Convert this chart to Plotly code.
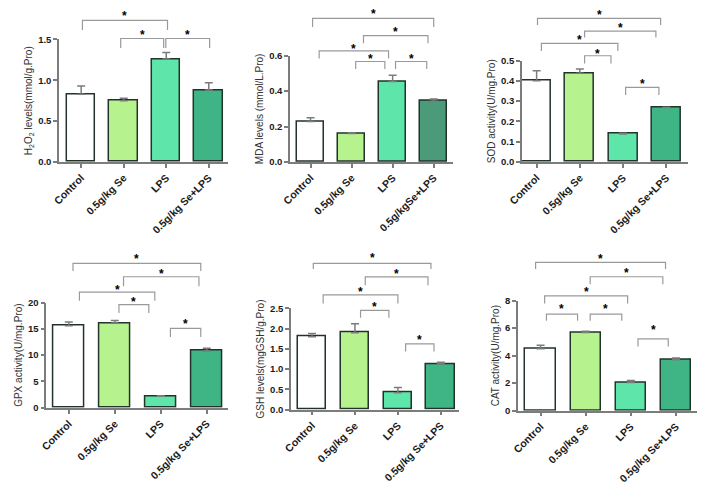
import plotly.graph_objects as go

W, H = 702, 484

# ---------------- data ----------------
categories = ["Control", "0.5g/kg Se", "LPS", "0.5g/kg Se+LPS"]
categories_mda = ["Control", "0.5g/kg Se", "LPS", "0.5g/kgSe+LPS"]

h2o2_mean = [0.83, 0.75, 1.26, 0.88]
h2o2_err = [0.10, 0.03, 0.08, 0.09]
mda_mean = [0.228, 0.160, 0.455, 0.343]
mda_err = [0.022, 0.003, 0.035, 0.012]
sod_mean = [0.400, 0.437, 0.138, 0.268]
sod_err = [0.050, 0.021, 0.004, 0.002]
gpx_mean = [15.6, 16.1, 2.2, 10.8]
gpx_err = [0.7, 0.5, 0.1, 0.5]
gsh_mean = [1.80, 1.90, 0.42, 1.13]
gsh_err = [0.08, 0.22, 0.13, 0.04]
cat_mean = [4.50, 5.68, 2.05, 3.70]
cat_err = [0.25, 0.10, 0.15, 0.13]

h2o2_ticks = [0.0, 0.5, 1.0, 1.5]
mda_ticks = [0.0, 0.2, 0.4, 0.6]
sod_ticks = [0.0, 0.1, 0.2, 0.3, 0.4, 0.5]
gpx_ticks = [0, 5, 10, 15, 20]
gsh_ticks = [0.0, 0.5, 1.0, 1.5, 2.0, 2.5]
cat_ticks = [0, 2, 4, 6, 8]

h2o2_sig = [(0, 2), (1, 2), (2, 3)]
mda_sig = [(0, 3), (1, 3), (0, 2), (1, 2), (2, 3)]
sod_sig = [(0, 3), (1, 3), (0, 2), (1, 2), (2, 3)]
gpx_sig = [(0, 3), (1, 3), (0, 2), (1, 2), (2, 3)]
gsh_sig = [(0, 3), (1, 3), (0, 2), (1, 2), (2, 3)]
cat_sig = [(0, 3), (1, 3), (0, 2), (0, 1), (1, 2), (2, 3)]

# ---------------- style ----------------
FONT = "Liberation Sans, Arial, sans-serif"
C_CTRL = "#ffffff"
C_SE = "#b6f28e"
C_LPS = "#5ee5a9"
C_SELPS = "#3fb585"
C_SELPS_MDA = "#4b9a79"
OUTLINE = "#22332a"
AXIS = "#7c7c7c"
BRACKET = "#9a9a9a"

# bracket style: (dx0, dx1, top, leg, star) in x data offset / y domain fraction
h2o2_br = [(0.03, 0.03, 1.156, 1.078, 1.22), (-0.07, -0.06, 1.008, 0.93, 1.06),
           (-0.01, 0.02, 1.008, 0.93, 1.06)]
mda_br = [(0.05, 0.0, 1.351, 1.27, 1.42), (0.29, -0.14, 1.19, 1.117, 1.25),
          (0.21, -0.10, 1.045, 0.973, 1.09), (0.10, -0.19, 0.946, 0.874, 1.0),
          (0.07, -0.17, 0.946, 0.874, 1.0)]
sod_br = [(0.02, -0.13, 1.415, 1.35, 1.48), (0.11, -0.24, 1.29, 1.226, 1.35),
          (0.11, -0.12, 1.17, 1.094, 1.23), (0.11, -0.28, 1.047, 0.97, 1.09),
          (0.06, -0.17, 0.736, 0.66, 0.80)]
gpx_br = [(0.09, -0.13, 1.373, 1.30, 1.445), (0.19, -0.17, 1.245, 1.155, 1.30),
          (0.23, -0.13, 1.10, 1.018, 1.15), (0.09, -0.26, 0.98, 0.90, 1.03),
          (0.21, -0.13, 0.755, 0.673, 0.82)]
gsh_br = [(0.03, -0.23, 1.443, 1.387, 1.53), (0.24, -0.30, 1.31, 1.226, 1.37),
          (0.26, 0.0, 1.132, 1.047, 1.19), (0.13, -0.21, 0.98, 0.906, 1.04),
          (0.18, -0.16, 0.65, 0.575, 0.72)]
cat_br = [(-0.11, -0.23, 1.348, 1.287, 1.41), (0.10, -0.29, 1.217, 1.148, 1.28),
          (0.09, -0.07, 1.043, 0.974, 1.11), (0.13, -0.18, 0.878, 0.817, 0.95),
          (0.10, -0.20, 0.878, 0.817, 0.95), (0.16, -0.17, 0.652, 0.583, 0.76)]

panels = [
    dict(mean=h2o2_mean, err=h2o2_err, ticks=h2o2_ticks, cats=categories, sig=h2o2_sig, br=h2o2_br,
         title="H<sub>2</sub>O<sub>2</sub> levels(mmol/g.Pro)", fmt="%.1f", selps=C_SELPS,
         px=(45, 218), py=(35, 163), xr=(-0.52, 3.46)),
    dict(mean=mda_mean, err=mda_err, ticks=mda_ticks, cats=categories_mda, sig=mda_sig, br=mda_br,
         title="MDA levels (mmol/L.Pro)", fmt="%.1f", selps=C_SELPS_MDA,
         px=(281, 448), py=(52, 163), xr=(-0.50, 3.48)),
    dict(mean=sod_mean, err=sod_err, ticks=sod_ticks, cats=categories, sig=sod_sig, br=sod_br,
         title="SOD activity(U/mg.Pro)", fmt="%.1f", selps=C_SELPS,
         px=(518, 688), py=(57, 163), xr=(-0.34, 3.51)),
    dict(mean=gpx_mean, err=gpx_err, ticks=gpx_ticks, cats=categories, sig=gpx_sig, br=gpx_br,
         title="GPX activity(U/mg.Pro)", fmt="%d", selps=C_SELPS,
         px=(32, 218), py=(310, 420), xr=(-0.49, 3.47)),
    dict(mean=gsh_mean, err=gsh_err, ticks=gsh_ticks, cats=categories, sig=gsh_sig, br=gsh_br,
         title="GSH levels(mgGSH/g.Pro)", fmt="%.1f", selps=C_SELPS,
         px=(282, 454), py=(316, 422), xr=(-0.49, 3.43)),
    dict(mean=cat_mean, err=cat_err, ticks=cat_ticks, cats=categories, sig=cat_sig, br=cat_br,
         title="CAT activity(U/mg.Pro)", fmt="%d", selps=C_SELPS,
         px=(514, 697), py=(308, 423), xr=(-0.50, 3.47)),
]

fig = go.Figure()
shapes = []
annotations = []

for k, p in enumerate(panels):
    n = "" if k == 0 else str(k + 1)
    xa, ya = "x" + n, "y" + n
    xs = list(range(len(p["cats"])))
    fig.add_trace(go.Bar(
        x=xs, y=p["mean"], xaxis=xa, yaxis=ya, width=0.67,
        marker=dict(color=[C_CTRL, C_SE, C_LPS, p["selps"]],
                    line=dict(color=OUTLINE, width=1.5)),
        error_y=dict(type="data", array=p["err"], arrayminus=[0] * 4, symmetric=False,
                     color=AXIS, thickness=1.5, width=4),
        showlegend=False, hoverinfo="skip",
    ))
    x0p, x1p = p["px"]
    y0p, y1p = p["py"]
    fig.layout["xaxis" + n] = dict(
        domain=[x0p / W, x1p / W], range=list(p["xr"]), anchor=ya,
        tickmode="array", tickvals=xs, ticktext=p["cats"], tickangle=-45,
        ticks="outside", ticklen=4, tickwidth=1.5, tickcolor=AXIS,
        showline=True, linecolor=AXIS, linewidth=1.5, showgrid=False, zeroline=False,
        tickfont=dict(family=FONT, size=10.5, color="#1a1a1a", weight="bold"),
        fixedrange=True,
    )
    fig.layout["yaxis" + n] = dict(
        domain=[1 - y1p / H, 1 - y0p / H], range=[p["ticks"][0], p["ticks"][-1]], anchor=xa,
        tickmode="array", tickvals=p["ticks"], ticktext=[p["fmt"] % t for t in p["ticks"]],
        ticks="outside", ticklen=4, tickwidth=1.5, tickcolor=AXIS,
        showline=True, linecolor=AXIS, linewidth=1.5, showgrid=False, zeroline=False,
        tickfont=dict(family=FONT, size=9.5, color="#1a1a1a", weight="bold"),
        title=dict(text=p["title"], font=dict(family=FONT, size=10, color="#333333"), standoff=4),
        fixedrange=True,
    )
    for (i, j), (dx0, dx1, top, leg, star) in zip(p["sig"], p["br"]):
        a, b = i + dx0, j + dx1
        shapes.append(dict(type="path", xref=xa, yref=ya + " domain",
                           path=f"M {a} {leg} L {a} {top} L {b} {top} L {b} {leg}",
                           line=dict(color=BRACKET, width=1.2)))
        annotations.append(dict(x=(a + b) / 2, y=star, xref=xa, yref=ya + " domain",
                                text="<b>*</b>", showarrow=False, yanchor="middle", yshift=-3,
                                font=dict(family=FONT, size=12, color="#000000")))

fig.update_layout(
    width=W, height=H, margin=dict(l=0, r=0, t=0, b=0),
    paper_bgcolor="white", plot_bgcolor="white",
    shapes=shapes, annotations=annotations, bargap=0,
)
fig.write_html("out.html")
